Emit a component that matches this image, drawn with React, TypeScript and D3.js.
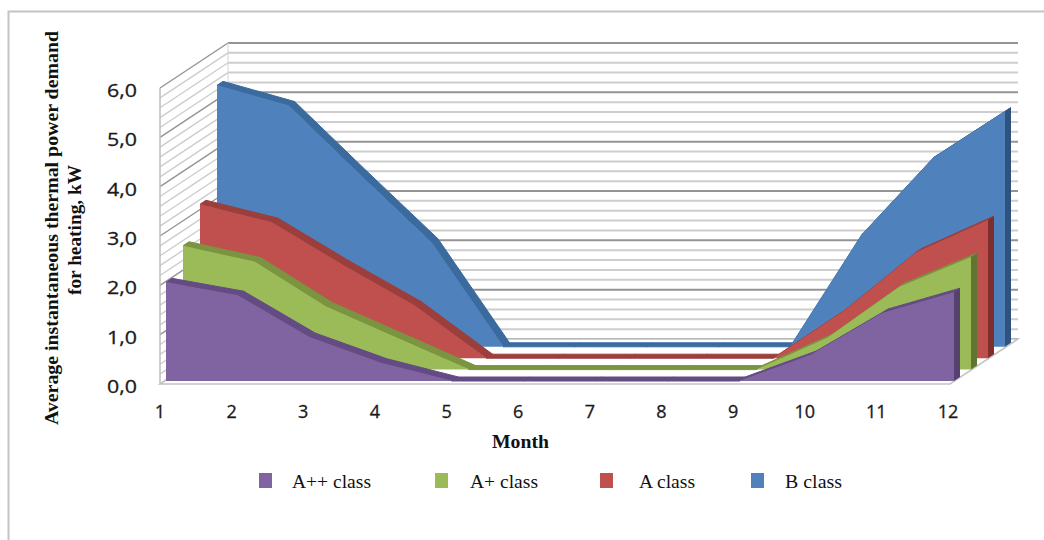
import React from "react";
import * as d3 from "d3";

const months = [1, 2, 3, 4, 5, 6, 7, 8, 9, 10, 11, 12];
const yTickLabels = ["0,0", "1,0", "2,0", "3,0", "4,0", "5,0", "6,0"];
const yTitleLines = ["Average instantaneous thermal power demand", "for heating, kW"];

const aPlusPlus = [2.0, 1.74, 0.89, 0.37, 0, 0, 0, 0, 0, 0.53, 1.38, 1.8];
const aPlus = [2.51, 2.19, 1.28, 0.64, 0, 0, 0, 0, 0, 0.65, 1.68, 2.28];
const aClass = [3.12, 2.76, 1.89, 1.07, 0, 0, 0, 0, 0, 0.97, 2.15, 2.8];
const bClass = [5.3, 4.89, 3.49, 2.11, 0, 0, 0, 0, 0, 2.27, 3.83, 4.77];

const seriesNames = ["A++ class", "A+ class", "A class", "B class"];
const seriesValues = [aPlusPlus, aPlus, aClass, bClass];
const faceColors = ["#8064a2", "#9bbb59", "#c0504d", "#4f81bd"];
const topColors = ["#644b84", "#7a9440", "#9c3e3b", "#3a6a9e"];
const capColors = ["#56406e", "#60752f", "#7d2f2d", "#30527f"];

const legendSwatchX = [259, 435, 600, 751];
const legendTextX = [292, 470, 639, 785];
const legendTextLen = [79, 68, 56, 57];

// Oblique projection: how far the back wall and each series sit behind the front plane.
const WALL_DX = 68;
const WALL_DY = -45;
const SERIES_DX = 17;
const SERIES_DY = -11.4;
const BAND_DX = 6;
const BAND_DY = -4;
const FRONT_LEFT = 160;
const FRONT_RIGHT = 950;

const yScale = d3.scaleLinear().domain([0, 6]).range([384, 88]);
const xLabel = d3.scaleLinear().domain([1, 12]).range([160, 948]);
const xFront = d3.scaleLinear().domain([1, 12]).range([166, 954]);
const gridValues = d3.range(0, 31).map((k) => k / 5);

const closed = d3.line<[number, number]>().curve(d3.curveLinearClosed);

function Series({ index }: { index: number }) {
  const values = seriesValues[index];
  const ox = SERIES_DX * index;
  const base = yScale(0) - 3 + SERIES_DY * index;
  const unit = yScale(0) - yScale(1);
  const pts = values.map((v, i) => [xFront(months[i]) + ox, base - v * unit] as [number, number]);
  const last = pts[pts.length - 1];
  const face: [number, number][] = [[pts[0][0], base], ...pts, [last[0], base]];
  const cap: [number, number][] = [
    [last[0], base],
    last,
    [last[0] + BAND_DX, last[1] + BAND_DY],
    [last[0] + BAND_DX, base + BAND_DY],
  ];
  return (
    <g>
      {pts.slice(1).map((p, i) => {
        const a = pts[i];
        return (
          <path
            key={i}
            d={closed([a, p, [p[0] + BAND_DX, p[1] + BAND_DY], [a[0] + BAND_DX, a[1] + BAND_DY]]) ?? ""}
            fill={topColors[index]}
            stroke={topColors[index]}
            strokeWidth={1}
            strokeLinejoin="round"
          />
        );
      })}
      <path d={closed(cap) ?? ""} fill={capColors[index]} />
      <path d={closed(face) ?? ""} fill={faceColors[index]} />
    </g>
  );
}

export default function App() {
  const top = yScale(6);
  const bottom = yScale(0);
  const serif = "'Liberation Serif', serif";
  return (
    <svg
      width={1044}
      height={540}
      style={{ position: "absolute", left: 0, top: 0, background: "#fff" }}
    >
      <path d="M8.5,540V11.5H1044" fill="none" stroke="#c4c4c4" strokeWidth={2} />

      {/* walls */}
      {gridValues.map((v, k) => {
        const major = k % 5 === 0;
        const y = yScale(v);
        return (
          <g key={k} stroke={major ? "#949494" : "#cdcdcd"} fill="none">
            <line x1={FRONT_LEFT} y1={y} x2={FRONT_LEFT + WALL_DX} y2={y + WALL_DY} strokeWidth={1.4} />
            <line
              x1={FRONT_LEFT + WALL_DX}
              y1={y + WALL_DY}
              x2={FRONT_RIGHT + WALL_DX}
              y2={y + WALL_DY}
              strokeWidth={2}
            />
          </g>
        );
      })}
      <line x1={FRONT_LEFT} y1={top} x2={FRONT_LEFT} y2={bottom} stroke="#bdbdbd" strokeWidth={1.5} />
      <line
        x1={FRONT_LEFT + WALL_DX}
        y1={top + WALL_DY}
        x2={FRONT_LEFT + WALL_DX}
        y2={bottom + WALL_DY}
        stroke="#d4d4d4"
        strokeWidth={1}
      />

      {/* floor */}
      <path
        d={
          closed([
            [FRONT_LEFT, bottom],
            [FRONT_LEFT + WALL_DX, bottom + WALL_DY],
            [FRONT_RIGHT + WALL_DX, bottom + WALL_DY],
            [FRONT_RIGHT, bottom],
          ]) ?? ""
        }
        fill="#fff"
        stroke="#c4c4c4"
        strokeWidth={1.5}
      />

      {[3, 2, 1, 0].map((i) => (
        <Series key={i} index={i} />
      ))}

      {/* axis labels */}
      <g fontFamily="'Open Sans', sans-serif" fontSize={19} fill="#1a1a1a" stroke="#1a1a1a" strokeWidth={0.3}>
        {yTickLabels.map((t, i) => (
          <text key={t} x={137} y={yScale(i) + 9} textAnchor="end" textLength={30} lengthAdjust="spacingAndGlyphs">
            {t}
          </text>
        ))}
        {months.map((m) => (
          <text key={m} x={xLabel(m)} y={418} textAnchor="middle" fontSize={18}>
            {m}
          </text>
        ))}
      </g>

      {/* titles */}
      <g fontFamily={serif} fontWeight="bold" fontSize={19} fill="#111">
        <text
          transform="translate(58,228) rotate(-90)"
          textAnchor="middle"
          textLength={394}
          lengthAdjust="spacingAndGlyphs"
        >
          {yTitleLines[0]}
        </text>
        <text
          transform="translate(81,230) rotate(-90)"
          textAnchor="middle"
          textLength={130}
          lengthAdjust="spacingAndGlyphs"
        >
          {yTitleLines[1]}
        </text>
        <text x={492} y={448} fontSize={18} textLength={57} lengthAdjust="spacingAndGlyphs">
          Month
        </text>
      </g>

      {/* legend */}
      {seriesNames.map((name, i) => (
        <g key={name}>
          <rect x={legendSwatchX[i]} y={473} width={13} height={15} fill={faceColors[i]} />
          <text
            x={legendTextX[i]}
            y={488}
            fontFamily={serif}
            fontSize={18}
            fill="#111"
            textLength={legendTextLen[i]}
            lengthAdjust="spacingAndGlyphs"
          >
            {name}
          </text>
        </g>
      ))}
    </svg>
  );
}
